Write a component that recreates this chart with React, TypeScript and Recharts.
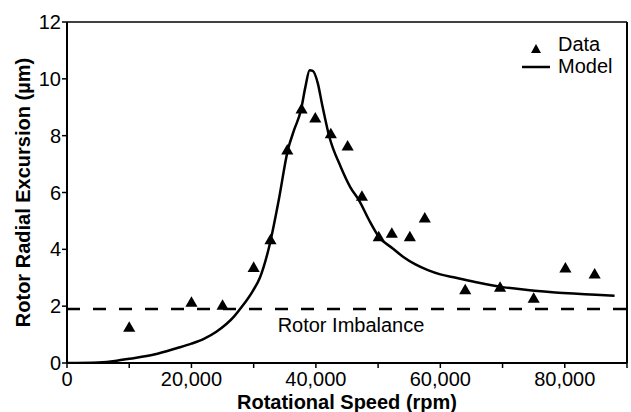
import React from 'react';
import { ComposedChart, Line, Scatter, XAxis, YAxis, ReferenceLine, Legend, Label } from 'recharts';

// Measured data (triangles)
const dataSpeed = [10000, 20000, 25000, 30000, 32700, 35400, 37700, 39900, 42400, 45100, 47400, 50100, 52200, 55100, 57500, 64000, 69600, 75000, 80100, 84800];
const dataExcursion = [1.22, 2.1, 2.0, 3.33, 4.3, 7.46, 8.9, 8.59, 8.03, 7.6, 5.83, 4.41, 4.53, 4.41, 5.07, 2.54, 2.63, 2.24, 3.31, 3.1];

// Model curve
const modelSpeed = [0, 5000, 8000, 10000, 14000, 17600, 20000, 22000, 24000, 26900, 28000, 29900, 31000, 32500, 34000, 35500, 36500, 37600, 38300, 39000, 39500, 40300, 41000, 42150, 44000, 45500, 47000, 48500, 50200, 52300, 54000, 56000, 58000, 60000, 62500, 66000, 70000, 74000, 78000, 82000, 85000, 88000];
const modelExcursion = [0, 0.02, 0.08, 0.15, 0.3, 0.52, 0.68, 0.85, 1.1, 1.65, 1.95, 2.55, 3.0, 4.1, 5.7, 7.5, 8.2, 8.9, 9.7, 10.3, 10.28, 9.85, 9.1, 7.97, 6.9, 6.2, 5.7, 5.05, 4.42, 4.04, 3.74, 3.47, 3.27, 3.12, 3.0, 2.83, 2.67, 2.57, 2.49, 2.44, 2.4, 2.37];

const xTicks = [0, 10000, 20000, 30000, 40000, 50000, 60000, 70000, 80000, 90000];
const yTicks = [0, 2, 4, 6, 8, 10, 12];
const imbalanceLevel = 1.9;

const scatterData = dataSpeed.map((x, i) => ({ x, y: dataExcursion[i] }));
const modelData = modelSpeed.map((x, i) => ({ x, y: modelExcursion[i] }));

const FONT = '"Liberation Sans", Arial, sans-serif';

const fmtX = (v: number) => (v % 20000 === 0 && v <= 80000 ? v.toLocaleString('en-US') : '');

const renderLegend = () => (
  <div style={{ fontFamily: FONT, fontSize: 20, lineHeight: '22px', color: '#000' }}>
    <div style={{ display: 'flex', alignItems: 'flex-start', height: 22 }}>
      <svg width={34} height={22} style={{ display: 'block' }}>
        <path d="M18,11 L23,20 L13,20 Z" fill="#000" />
      </svg>
      <span style={{ marginLeft: 6 }}>Data</span>
    </div>
    <div style={{ display: 'flex', alignItems: 'flex-start', height: 22 }}>
      <svg width={34} height={22} style={{ display: 'block' }}>
        <line x1={4} y1={12} x2={32} y2={12} stroke="#000" strokeWidth={2.5} />
      </svg>
      <span style={{ marginLeft: 6 }}>Model</span>
    </div>
  </div>
);

export default function App() {
  return (
    <div style={{ position: 'absolute', left: 0, top: 0, width: 631, height: 412, background: '#fff' }}>
      <ComposedChart
        width={631}
        height={412}
        margin={{ top: 22, right: 4, bottom: 0, left: 0 }}
        style={{ fontFamily: FONT }}
      >
        <XAxis
          type="number"
          dataKey="x"
          domain={[0, 90000]}
          ticks={xTicks}
          tickFormatter={fmtX}
          interval={0}
          height={49}
          axisLine={{ stroke: '#000', strokeWidth: 2 }}
          tickLine={{ stroke: '#000', strokeWidth: 1.5 }}
          tickSize={5}
          tickMargin={4}
          tick={{ fill: '#000', fontSize: 20, fontFamily: FONT }}
          allowDataOverflow
        >
          <Label
            value="Rotational Speed (rpm)"
            position="insideBottom"
            offset={3}
            style={{ fill: '#000', fontSize: 20, fontWeight: 'bold', fontFamily: FONT }}
          />
        </XAxis>
        <YAxis
          type="number"
          dataKey="y"
          domain={[0, 12]}
          ticks={yTicks}
          interval={0}
          width={67}
          axisLine={{ stroke: '#000', strokeWidth: 2 }}
          tickLine={{ stroke: '#000', strokeWidth: 1.5 }}
          tickSize={5}
          tickMargin={1}
          tick={{ fill: '#000', fontSize: 20, fontFamily: FONT }}
          allowDataOverflow
        >
          <Label
            value="Rotor Radial Excursion (µm)"
            angle={-90}
            position="center"
            dx={-11}
            style={{ fill: '#000', fontSize: 20, fontWeight: 'bold', fontFamily: FONT, textAnchor: 'middle' }}
          />
        </YAxis>
        <ReferenceLine y={12} stroke="#000" strokeWidth={1.5} />
        <ReferenceLine x={90000} stroke="#000" strokeWidth={2} />
        <ReferenceLine y={imbalanceLevel} stroke="#000" strokeWidth={2.5} strokeDasharray="13 13">
          <Label
            value="Rotor Imbalance"
            position="bottom"
            offset={9}
            dx={4}
            style={{ fill: '#000', fontSize: 20, fontFamily: FONT }}
          />
        </ReferenceLine>
        <Line
          data={modelData}
          dataKey="y"
          type="monotone"
          stroke="#000"
          strokeWidth={2.5}
          dot={false}
          activeDot={false}
          isAnimationActive={false}
          name="Model"
        />
        <Scatter
          data={scatterData}
          dataKey="y"
          shape="triangle"
          fill="#000"
          isAnimationActive={false}
          name="Data"
        />
        <Legend
          layout="vertical"
          align="center"
          verticalAlign="middle"
          content={renderLegend}
          wrapperStyle={{ left: 518, top: 33, width: 110 }}
        />
      </ComposedChart>
    </div>
  );
}
